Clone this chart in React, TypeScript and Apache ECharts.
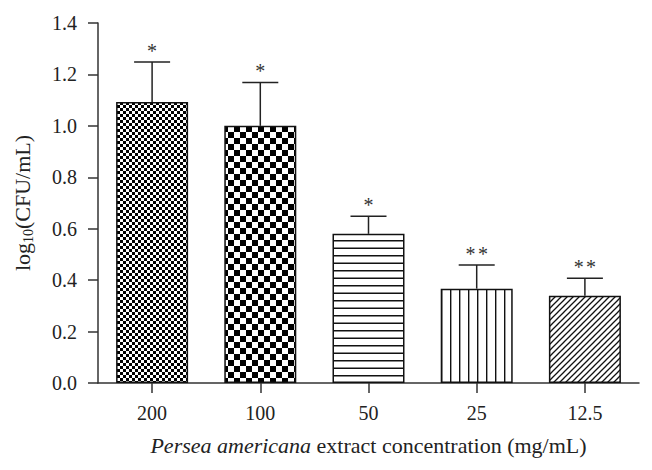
import React, { useEffect, useRef } from "react";
import * as echarts from "echarts";

const categories = ["200", "100", "50", "25", "12.5"];
const means = [1.093, 1.0, 0.58, 0.367, 0.339];
const errors = [0.155, 0.169, 0.068, 0.092, 0.068];
const starCounts = [1, 1, 1, 2, 2];
const patternKinds = ["fineChecker", "coarseChecker", "hLines", "vLines", "diagonal"];

const FONT = "'Liberation Serif', 'Times New Roman', serif";

function makeCanvas(w: number, h: number) {
  const cv = document.createElement("canvas");
  cv.width = w;
  cv.height = h;
  const ctx = cv.getContext("2d")!;
  ctx.fillStyle = "#ffffff";
  ctx.fillRect(0, 0, w, h);
  return { cv, ctx };
}

function makePattern(kind: string) {
  if (kind === "fineChecker" || kind === "coarseChecker") {
    const c = kind === "fineChecker" ? 3 : 6;
    const { cv, ctx } = makeCanvas(2 * c, 2 * c);
    ctx.fillStyle = "#000";
    ctx.fillRect(0, 0, c, c);
    ctx.fillRect(c, c, c, c);
    return { image: cv, repeat: "repeat", imageWidth: 2 * c, imageHeight: 2 * c };
  }
  if (kind === "hLines") {
    const { cv, ctx } = makeCanvas(4, 15);
    ctx.fillStyle = "#111";
    ctx.fillRect(0, 0, 4, 1.5);
    ctx.fillRect(0, 7.5, 4, 1.5);
    return { image: cv, repeat: "repeat", imageWidth: 4, imageHeight: 15 };
  }
  if (kind === "vLines") {
    const { cv, ctx } = makeCanvas(9, 4);
    ctx.fillStyle = "#111";
    ctx.fillRect(0, 0, 1.4, 4);
    return { image: cv, repeat: "repeat", imageWidth: 9, imageHeight: 4 };
  }
  // diagonal "/" hatch
  const s = 6;
  const { cv, ctx } = makeCanvas(s, s);
  ctx.strokeStyle = "#111";
  ctx.lineWidth = 1.3;
  ctx.beginPath();
  ctx.moveTo(-1, s + 1);
  ctx.lineTo(s + 1, -1);
  ctx.moveTo(-1, 1);
  ctx.lineTo(1, -1);
  ctx.moveTo(s - 1, s + 1);
  ctx.lineTo(s + 1, s - 1);
  ctx.stroke();
  return { image: cv, repeat: "repeat", imageWidth: s, imageHeight: s };
}

export default function App() {
  const ref = useRef<HTMLDivElement>(null);

  useEffect(() => {
    if (!ref.current) return;
    const chart = echarts.init(ref.current, null, { renderer: "svg" });

    const barData = means.map((m, i) => ({
      value: m,
      itemStyle: {
        color: makePattern(patternKinds[i]) as any,
        borderColor: "#111",
        borderWidth: 1.5,
      },
    }));

    const errData = means.map((m, i) => [i, m, errors[i]]);

    const option: any = {
      animation: false,
      backgroundColor: "#ffffff",
      grid: { left: 98, right: 13, top: 23, bottom: 87, containLabel: false, outerBoundsMode: "none" },
      xAxis: {
        type: "category",
        data: categories,
        boundaryGap: true,
        axisLine: { show: true, lineStyle: { color: "#333", width: 1.5 } },
        axisTick: { show: true, alignWithLabel: true, length: 10, lineStyle: { color: "#333", width: 1.5 } },
        axisLabel: { color: "#222", fontSize: 20, fontFamily: FONT, margin: 20 },
        name: "{i|Persea americana}{n| extract concentration (mg/mL)}",
        nameLocation: "middle",
        nameGap: 51,
        nameTextStyle: {
          color: "#222",
          fontFamily: FONT,
          fontSize: 22,
          rich: {
            i: { fontStyle: "italic", fontSize: 22, fontFamily: FONT, color: "#222" },
            n: { fontSize: 22, fontFamily: FONT, color: "#222" },
          },
        },
      },
      yAxis: {
        type: "value",
        min: 0,
        max: 1.4,
        interval: 0.2,
        axisLine: { show: true, lineStyle: { color: "#333", width: 1.5 } },
        axisTick: { show: true, length: 10, lineStyle: { color: "#333", width: 1.5 } },
        splitLine: { show: false },
        axisLabel: {
          color: "#222",
          fontSize: 20,
          fontFamily: FONT,
          margin: 21,
          formatter: (v: number) => v.toFixed(1),
        },
        name: "{a|log}{b|10}{a|(CFU/mL)}",
        nameLocation: "middle",
        nameGap: 63,
        nameTextStyle: {
          color: "#222",
          fontFamily: FONT,
          fontSize: 22,
          rich: {
            a: { fontSize: 22, fontFamily: FONT, color: "#222", lineHeight: 26 },
            b: { fontSize: 14, fontFamily: FONT, color: "#222", verticalAlign: "bottom", lineHeight: 26, padding: [10, 0, 0, 0] },
          },
        },
      },
      series: [
        {
          type: "bar",
          data: barData,
          barWidth: 72,
        },
        {
          type: "custom",
          data: errData,
          encode: { x: 0, y: 1 },
          z: 3,
          renderItem: (params: any, api: any) => {
            const idx = api.value(0);
            const m = api.value(1);
            const e = api.value(2);
            const base = api.coord([idx, m]);
            const top = api.coord([idx, m + e]);
            const half = 18;
            const lineStyle = { stroke: "#222", lineWidth: 1.5 };
            const n = starCounts[params.dataIndex];
            const offsets = n === 2 ? [-6.2, 6.2] : [0];
            const stars = offsets.map((dx) => ({
              type: "text",
              x: top[0] + dx,
              y: top[1] - 11,
              style: {
                text: "*",
                fill: "#333",
                font: `20px ${FONT}`,
                textAlign: "center",
                align: "center",
                textVerticalAlign: "middle",
                verticalAlign: "middle",
              },
            }));
            return {
              type: "group",
              children: [
                { type: "line", shape: { x1: base[0], y1: base[1], x2: top[0], y2: top[1] }, style: lineStyle },
                { type: "line", shape: { x1: top[0] - half, y1: top[1], x2: top[0] + half, y2: top[1] }, style: lineStyle },
                ...stars,
              ],
            };
          },
        },
      ],
    };

    chart.setOption(option);
    return () => chart.dispose();
  }, []);

  return (
    <div
      ref={ref}
      style={{ position: "fixed", left: 0, top: 0, width: 652, height: 470, background: "#fff" }}
    />
  );
}
